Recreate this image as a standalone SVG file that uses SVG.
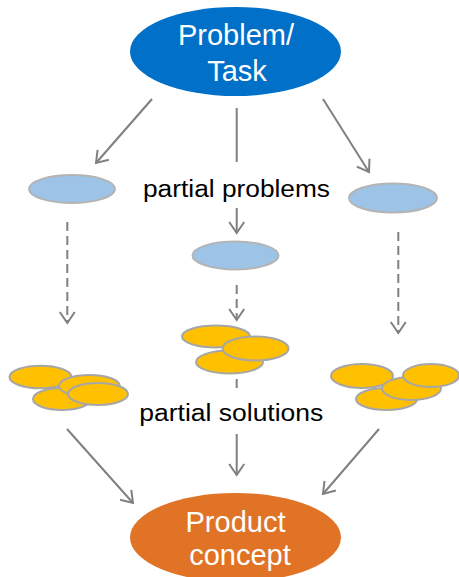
<svg xmlns="http://www.w3.org/2000/svg" width="459" height="577" viewBox="0 0 459 577">
<style>
.lbl{font-family:"Liberation Sans",Arial,sans-serif;font-size:23px;fill:#000}
.big{font-family:"Liberation Sans",Arial,sans-serif;font-size:29px;fill:#fff;text-anchor:middle}
.pp{fill:#9DC3E6;stroke:#B4B4B4;stroke-width:2}
.coin{fill:#FFC000;stroke:#A6A6A6;stroke-width:2}
.ln{stroke:#808080;stroke-width:2;fill:none}
.dash{stroke-dasharray:9,5}
</style>
<defs>
<marker id="ah" markerUnits="userSpaceOnUse" viewBox="-13 -9 15 18" refX="0" refY="0" markerWidth="15" markerHeight="18" orient="auto">
<path d="M-11,-7.5 L0,0 L-11,7.5" fill="none" stroke="#808080" stroke-width="2"/>
</marker>
</defs>
<rect width="459" height="577" fill="#fff"/>
<g id="connectors">
<line class="ln" x1="152" y1="99" x2="96" y2="163" marker-end="url(#ah)"/>
<line class="ln" x1="236.7" y1="108" x2="236.7" y2="162"/>
<line class="ln" x1="323" y1="99" x2="369" y2="172" marker-end="url(#ah)"/>
<line class="ln" x1="236.7" y1="208" x2="236.7" y2="233" marker-end="url(#ah)"/>
<line class="ln dash" x1="67.3" y1="222" x2="67.3" y2="323" marker-end="url(#ah)"/>
<line class="ln dash" x1="236.7" y1="285" x2="236.7" y2="320" marker-end="url(#ah)"/>
<line class="ln dash" x1="398.3" y1="232" x2="398.3" y2="333" marker-end="url(#ah)"/>
<line class="ln" x1="236.7" y1="379" x2="236.7" y2="388"/>
<line class="ln" x1="67" y1="429" x2="133" y2="503" marker-end="url(#ah)"/>
<line class="ln" x1="236.7" y1="434" x2="236.7" y2="475" marker-end="url(#ah)"/>
<line class="ln" x1="379" y1="429" x2="323" y2="494" marker-end="url(#ah)"/>
</g>
<g id="problem">
<ellipse cx="235.5" cy="51.5" rx="105.5" ry="44.5" fill="#0070C8"/>
<text class="big" x="236" y="45">Problem/</text>
<text class="big" x="237" y="80.5">Task</text>
</g>
<g id="partial-problems-label">
<text class="lbl" x="143" y="196.5" textLength="187" lengthAdjust="spacingAndGlyphs">partial problems</text>
</g>
<g id="pp-left"><ellipse class="pp" cx="72" cy="189" rx="43" ry="14"/></g>
<g id="pp-middle"><ellipse class="pp" cx="235.5" cy="255.5" rx="43" ry="14"/></g>
<g id="pp-right"><ellipse class="pp" cx="393" cy="198" rx="44" ry="14.5"/></g>
<g id="ps-left">
<ellipse class="coin" cx="40.5" cy="377" rx="31" ry="11.3"/>
<ellipse class="coin" cx="62" cy="399" rx="29" ry="11"/>
<ellipse class="coin" cx="89.5" cy="386" rx="30.5" ry="11"/>
<ellipse class="coin" cx="98" cy="394" rx="30" ry="11"/>
</g>
<g id="ps-middle">
<ellipse class="coin" cx="216" cy="336.5" rx="34" ry="11"/>
<ellipse class="coin" cx="229.5" cy="362" rx="33.5" ry="11.5"/>
<ellipse class="coin" cx="255.5" cy="348.5" rx="33" ry="12"/>
</g>
<g id="ps-right">
<ellipse class="coin" cx="362" cy="376" rx="31" ry="12"/>
<ellipse class="coin" cx="386.5" cy="399" rx="30.5" ry="11"/>
<ellipse class="coin" cx="411.5" cy="388.5" rx="29.5" ry="11.5"/>
<ellipse class="coin" cx="431" cy="375.5" rx="28" ry="11.5"/>
</g>
<g id="partial-solutions-label">
<text class="lbl" x="139.3" y="421" textLength="184" lengthAdjust="spacingAndGlyphs">partial solutions</text>
</g>
<g id="product-concept">
<ellipse cx="235.5" cy="537.5" rx="105.5" ry="44.5" fill="#E07326"/>
<text class="big" x="235.5" y="531.5">Product</text>
<text class="big" x="240" y="565">concept</text>
</g>
</svg>
